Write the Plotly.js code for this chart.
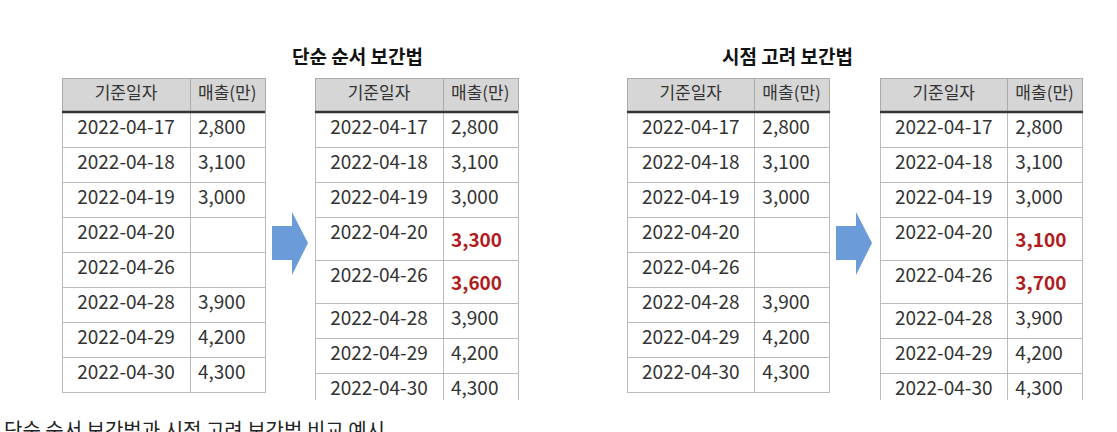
<!DOCTYPE html>
<html><head><meta charset="utf-8">
<script src="https://cdn.plot.ly/plotly-3.0.1.min.js"></script>
<style>body{margin:0;background:#fff}</style></head>
<body><div id="c" style="width:1117px;height:432px"></div>
<script>
const dates=['2022-04-17','2022-04-18','2022-04-19','2022-04-20','2022-04-26','2022-04-28','2022-04-29','2022-04-30'];
const salesRaw=['2,800','3,100','3,000','','','3,900','4,200','4,300'];
const salesSimple=['2,800','3,100','3,000','3,300','3,600','3,900','4,200','4,300'];
const salesTime=['2,800','3,100','3,000','3,100','3,700','3,900','4,200','4,300'];
const headers=['기준일자','매출(만)'];
const titles=['단순 순서 보간법','시점 고려 보간법'];
const caption='단순 순서 보간법과 시점 고려 보간법 비교 예시';
const W=1117,H=432;
const px=v=>v/W, py=v=>1-v/H;
function tbl(x0,x1,sales,filled){
  const vals=sales.map((s,i)=>filled&&salesRaw[i]===''?'<b>'+s+'</b>':s);
  const cols=sales.map((s,i)=>filled&&salesRaw[i]===''?'#b01c1c':'#333');
  return {type:'table',domain:{x:[px(x0),px(x1)],y:[py(400),py(78)]},columnwidth:[128,75],
    header:{values:headers,fill:{color:'#d6d6d6'},line:{color:'#aaa',width:1},align:['center','left'],height:34,
      font:{family:'Noto Sans CJK KR',size:17,color:'#333'}},
    cells:{values:[dates,vals],fill:{color:'#fff'},line:{color:'#bbb',width:1},align:['center','left'],height:35,
      font:{family:'Noto Sans CJK KR',size:19,color:[dates.map(()=>'#333'),cols]}}};
}
const data=[tbl(62,265,salesRaw,false),tbl(315,518,salesSimple,true),tbl(627,830,salesRaw,false),tbl(880,1083,salesTime,true)];
function arrow(x){const a=px(x),b=px(x+20),c=px(x+36);const t=py(212),m=py(243),bt=py(275),s1=py(226),s2=py(260);
  return {type:'path',xref:'paper',yref:'paper',fillcolor:'#6b9bd8',line:{width:0},
    path:`M${a},${s1} L${b},${s1} L${b},${t} L${c},${m} L${b},${bt} L${b},${s2} L${a},${s2} Z`};}
const shapes=[arrow(272),arrow(836)];
[[62,265],[315,518],[627,830],[880,1083]].forEach(([a,b])=>shapes.push({type:'line',xref:'paper',yref:'paper',x0:px(a),x1:px(b),y0:py(112),y1:py(112),line:{color:'#333',width:2.5}}));
const layout={width:W,height:H,margin:{l:0,r:0,t:0,b:0},paper_bgcolor:'#fff',shapes,
  annotations:[
    {text:'<b>'+titles[0]+'</b>',x:px(290),y:py(40),xref:'paper',yref:'paper',showarrow:false,font:{family:'Noto Sans CJK KR',size:19,color:'#111'}},
    {text:'<b>'+titles[1]+'</b>',x:px(855),y:py(40),xref:'paper',yref:'paper',showarrow:false,font:{family:'Noto Sans CJK KR',size:19,color:'#111'}},
    {text:caption,x:px(2),y:py(446),xref:'paper',yref:'paper',xanchor:'left',showarrow:false,font:{family:'Noto Sans CJK KR',size:20,color:'#222'}}]};
Plotly.newPlot('c',data,layout,{displayModeBar:false});
</script></body></html>
